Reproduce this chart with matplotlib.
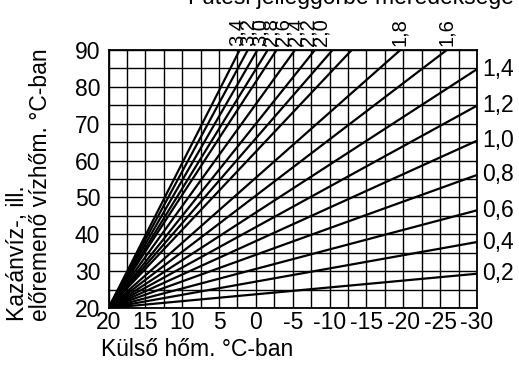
import matplotlib
matplotlib.use("Agg")
import matplotlib.pyplot as plt
import numpy as np

plt.rcParams['font.family'] = ['Liberation Sans', 'DejaVu Sans']

# axis values
outdoor_ticks = [20, 15, 10, 5, 0, -5, -10, -15, -20, -25, -30]
flow_ticks = [20, 30, 40, 50, 60, 70, 80, 90]

# all curves start at the same base point
base_outdoor = 20
base_flow = 20

# flatter curves: flow temperature reached at -30 °C
side_slopes = ["0,2", "0,4", "0,6", "0,8", "1,0", "1,2", "1,4"]
side_end_flow = [29.3, 37.9, 46.5, 56.1, 65.4, 74.9, 84.8]

# steeper curves: outdoor temperature at which 90 °C is reached
top_end_outdoor = [2.2, 1.1, -0.2, -1.6, -2.8, -5.3, -8.0, -10.4, -13.0, -19.6, -25.9]
top_slopes = ["3,4", "3,2", "3,0", "2,8", "2,6", "2,4", "2,2", "2,0", "1,8", "1,6"]
top_label_pos = [2.6, 1.0, -0.6, -2.1, -3.7, -5.4, -7.1, -8.8, -19.5, -25.9]

W, H = 519, 365
fig = plt.figure(figsize=(W / 100, H / 100), dpi=100)
left, right, top, bottom = 108.5, 477, 50, 308
ax = fig.add_axes([left / W, 1 - bottom / H, (right - left) / W, (bottom - top) / H])

x_lo, x_hi = -30, 20
y_lo, y_hi = 20, 90
ax.set_xlim(x_hi, x_lo)
ax.set_ylim(y_lo, y_hi)

FS = 16.5

ax.set_xticks(outdoor_ticks)
ax.set_yticks(flow_ticks)
ax.set_xticks(np.arange(x_lo, x_hi + 0.1, 2.5), minor=True)
ax.set_yticks(np.arange(y_lo, y_hi + 0.1, 5), minor=True)
ax.grid(True, which='both', color='black', linewidth=1.0)
ax.set_axisbelow(True)
ax.tick_params(which='both', length=0, labelsize=FS, colors='black')
ax.tick_params(axis='y', pad=6)
ax.tick_params(axis='x', pad=2.5)
ax.set_xticklabels([f"{t}" for t in outdoor_ticks])
for sp in ax.spines.values():
    sp.set_linewidth(1.3)
    sp.set_color('black')

line_kw = dict(color='black', linewidth=1.6, solid_capstyle='butt', clip_on=True)
for yend in side_end_flow:
    ax.plot([base_outdoor, x_lo], [base_flow, yend], **line_kw)
for xend in top_end_outdoor:
    ax.plot([base_outdoor, xend], [base_flow, y_hi], **line_kw)

for lab, yend in zip(side_slopes, side_end_flow):
    ax.annotate(lab, xy=(x_lo, yend), xytext=(4, 0), textcoords='offset points',
                ha='left', va='center', fontsize=FS, annotation_clip=False)
for lab, xpos in zip(top_slopes, top_label_pos):
    ax.annotate(lab, xy=(xpos, y_hi), xytext=(0, 3), textcoords='offset points',
                ha='center', va='bottom', rotation=90, fontsize=14.5,
                annotation_clip=False)

fig.text(29 / W, 1 - 321 / H, "Kazánvíz-, ill.\nelőremenő vízhőm. °C-ban",
         rotation=90, ha='center', va='bottom', multialignment='left',
         fontsize=FS, linespacing=0.95)
fig.text(101 / W, 1 - 356 / H, "Külső hőm. °C-ban", ha='left', va='baseline',
         fontsize=FS)
fig.text(188 / W, 1 - 4 / H, "Fűtési jelleggörbe meredeksége", ha='left',
         va='baseline', fontsize=FS)

fig.savefig("out.png", dpi=100)
